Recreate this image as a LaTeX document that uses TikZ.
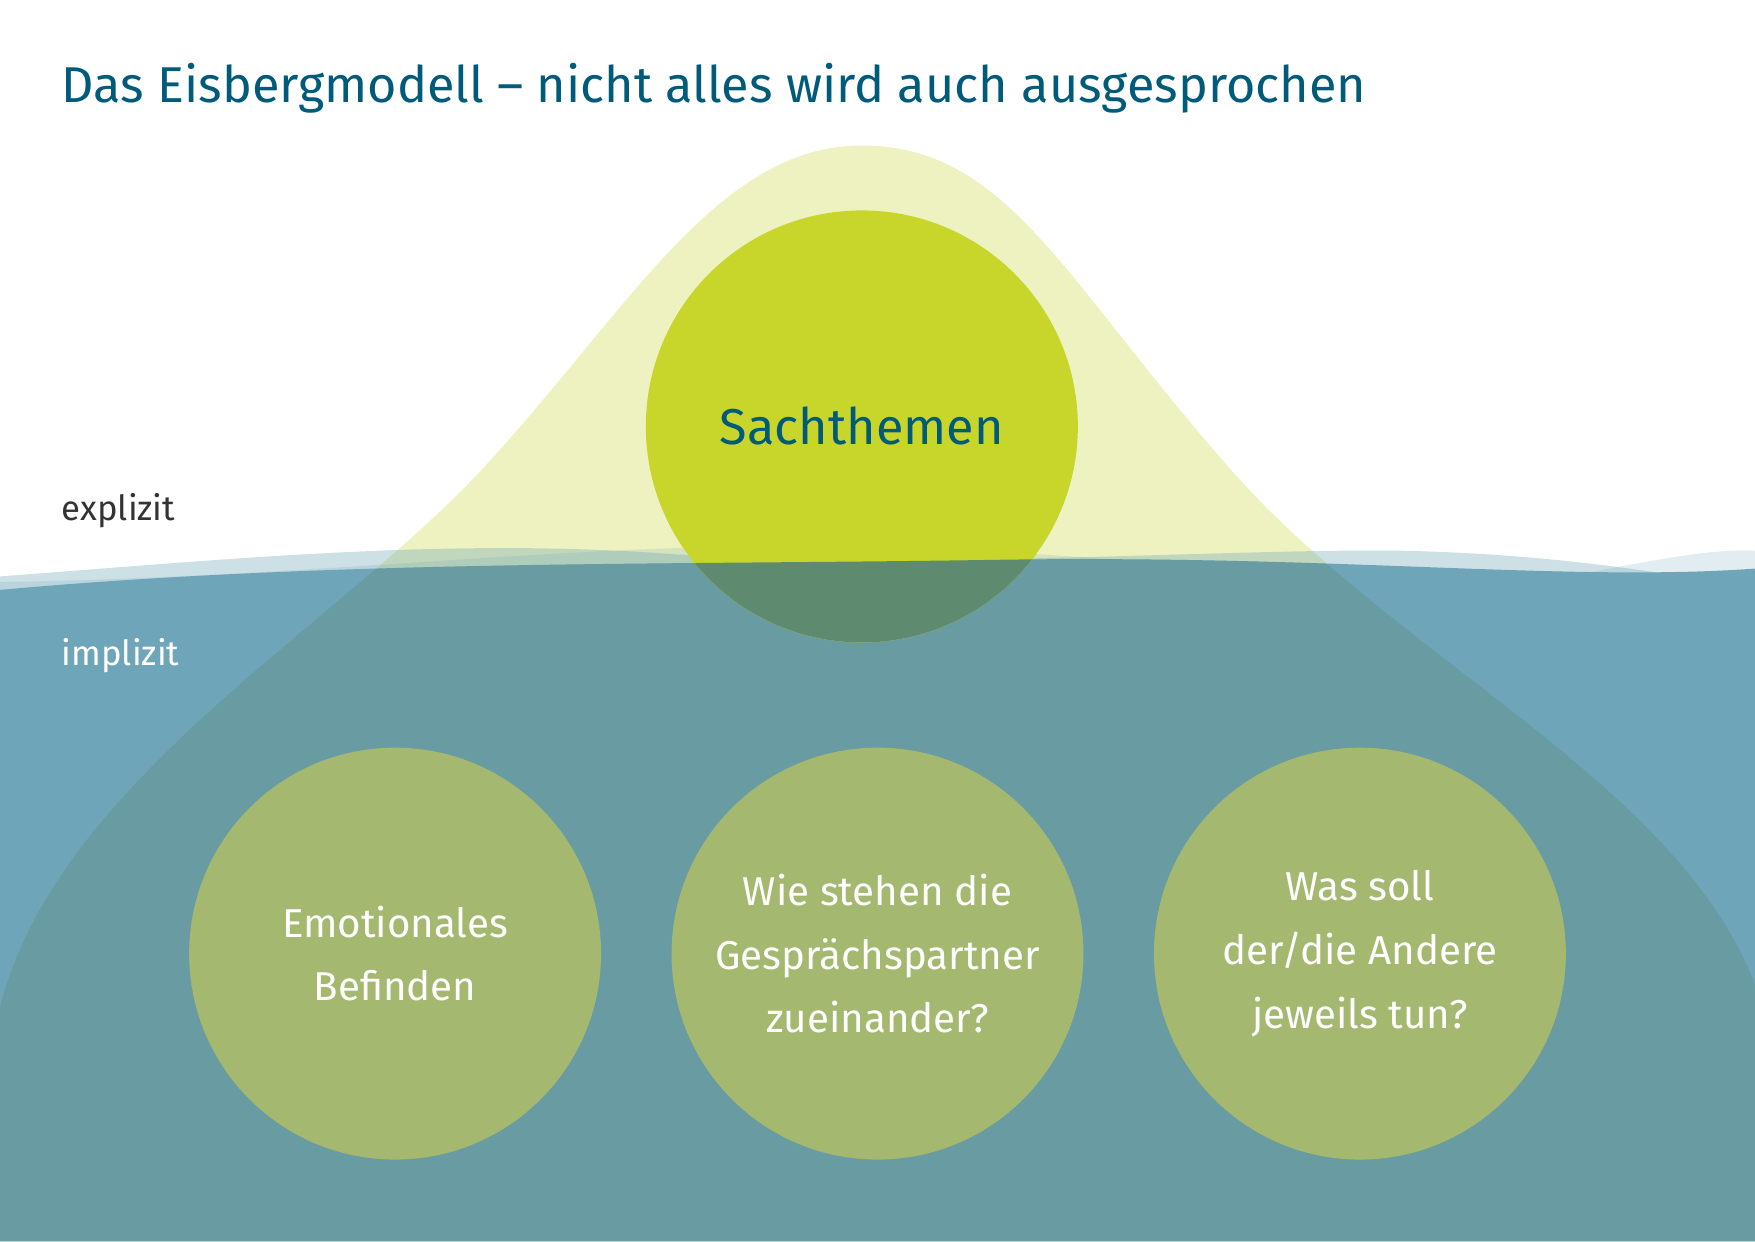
\documentclass[tikz,border=0pt]{standalone}
\usepackage{fontspec}
\setmainfont{Fira Sans}
\definecolor{titleblue}{RGB}{0,90,122}
\definecolor{berg}{RGB}{238,242,192}
\definecolor{water}{RGB}{111,165,184}
\definecolor{deep}{RGB}{90,130,100}
\definecolor{sach}{RGB}{200,214,44}
\definecolor{sachdeep}{RGB}{94,139,112}
\definecolor{lowc}{RGB}{165,184,111}
\tikzset{
  lowcirc/.style={circle,fill=lowc,minimum size=368pt,inner sep=0pt,text=white,align=center,font=\fontsize{36}{57}\selectfont},
}
\begin{document}
\begin{tikzpicture}[x=1pt,y=-1pt]
\useasboundingbox (0,0) rectangle (1568,1109);
\def\berg{(0,900) .. controls (50,700) and (300,560) .. (430,420) .. controls (560,280) and (640,130) .. (770,130) .. controls (900,130) and (950,250) .. (1100,420) .. controls (1250,590) and (1500,700) .. (1568,880) -- (1568,1109) -- (0,1109) -- cycle}
\def\water{(0,527) .. controls (300,500) and (600,505) .. (900,500) .. controls (1200,496) and (1400,520) .. (1568,508) -- (1568,1109) -- (0,1109) -- cycle}
\fill[berg] \berg;
\fill[water] \water;
% wave bands
\fill[water,opacity=0.35] (0,515) .. controls (200,500) and (400,480) .. (600,495) .. controls (800,510) and (1100,490) .. (1250,492) .. controls (1400,495) and (1500,515) .. (1568,525) -- (1568,560) -- (0,560) -- cycle;
\fill[water,opacity=0.2] (0,520) .. controls (300,515) and (500,485) .. (750,488) .. controls (1000,492) and (1200,525) .. (1400,515) .. controls (1480,500) and (1530,490) .. (1568,492) -- (1568,560) -- (0,560) -- cycle;
\begin{scope}
  \clip \water;
  \fill[deep,opacity=0.25] \berg;
\end{scope}
\node[circle,fill=sach,minimum size=386pt,inner sep=0pt] (sach) at (770,381) {};
\begin{scope}
  \clip \water;
  \fill[sachdeep] (770,381) circle (193);
\end{scope}
\node[text=titleblue,font=\fontsize{45}{50}\selectfont] (st) at (sach.center) {Sachthemen};
\node[lowcirc] (c1) at (353,852) {Emotionales\\Befinden};
\node[lowcirc] (c2) at (784,852) {Wie stehen die\\Gesprächspartner\\zueinander?};
\node[lowcirc] (c3) at (1215,852) {Was soll\\der/die Andere\\jeweils tun?};
\node[anchor=base west,text=titleblue,font=\fontsize{45}{50}\selectfont,inner sep=0pt] (title) at (55,92) {Das Eisbergmodell – nicht alles wird auch ausgesprochen};
\node[anchor=base west,text=black!80,font=\fontsize{31}{36}\selectfont,inner sep=0pt] (ex) at (55,465) {explizit};
\node[anchor=base west,text=white,font=\fontsize{31}{36}\selectfont,inner sep=0pt] (im) at (55,595) {implizit};
\end{tikzpicture}
\end{document}
